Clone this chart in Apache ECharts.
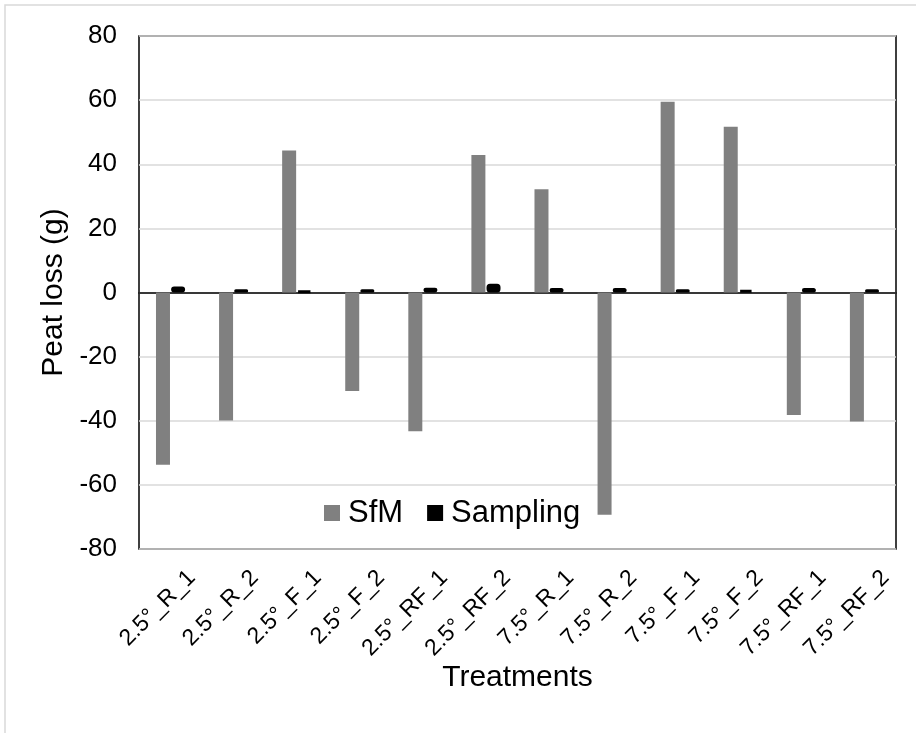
<!DOCTYPE html>
<html>
<head>
<meta charset="utf-8">
<script src="https://cdn.jsdelivr.net/npm/echarts@6/dist/echarts.min.js"></script>
<style>
html,body{margin:0;padding:0;background:#fff;}
#chart{width:916px;height:733px;}
</style>
</head>
<body>
<div id="chart"></div>
<script>
const categories = ['2.5°_R_1','2.5°_R_2','2.5°_F_1','2.5°_F_2','2.5°_RF_1','2.5°_RF_2','7.5°_R_1','7.5°_R_2','7.5°_F_1','7.5°_F_2','7.5°_RF_1','7.5°_RF_2'];
const sfmValues = [-53.7, -39.9, 44.3, -30.7, -43.3, 42.9, 32.2, -69.3, 59.5, 51.7, -38.2, -40.2];
const samplingValues = [1.9, 1.0, 0.5, 1.0, 1.5, 2.7, 1.4, 1.4, 1.0, 0.8, 1.4, 1.0];
const yTicks = {min: -80, max: 80, interval: 20};

const FONT = '"Liberation Sans", Arial, sans-serif';
const chart = echarts.init(document.getElementById('chart'), null, {renderer: 'canvas'});
chart.setOption({
  animation: false,
  backgroundColor: '#fff',
  textStyle: {fontFamily: FONT},
  graphic: [{
    type: 'rect', shape: {x: 5, y: 5, width: 940, height: 760},
    style: {fill: 'none', stroke: '#d9d9d9', lineWidth: 1.5}, silent: true, z: -10
  }],
  grid: {left: 139, top: 36, right: 20, bottom: 184, show: true, borderColor: '#000', borderWidth: 1.5, backgroundColor: 'transparent'},
  legend: {
    left: 319, top: 491, itemWidth: 16, itemHeight: 16, itemGap: 24,
    icon: 'rect',
    textStyle: {fontSize: 31, color: '#000', fontFamily: FONT, lineHeight: 34, padding: [0,0,0,3]},
    data: [{name: 'SfM', itemStyle: {color: '#808080', borderWidth: 0}}, {name: 'Sampling', itemStyle: {color: '#000', borderWidth: 0}}]
  },
  xAxis: {
    type: 'category', data: categories,
    name: 'Treatments', nameLocation: 'middle', nameGap: 114, nameMoveOverlap: false,
    nameTextStyle: {fontSize: 30, color: '#000', fontFamily: FONT, verticalAlign: 'top'},
    axisLine: {show: true, lineStyle: {color: '#000', width: 1.5}},
    axisTick: {show: false},
    axisLabel: {rotate: 45, fontSize: 23, color: '#000', fontFamily: FONT, margin: 4, interval: 0, verticalAlign: 'top', lineHeight: 60}
  },
  yAxis: {
    type: 'value', min: yTicks.min, max: yTicks.max, interval: yTicks.interval,
    name: 'Peat loss (g)', nameLocation: 'middle', nameGap: 70, nameRotate: 90, nameMoveOverlap: false,
    nameTextStyle: {fontSize: 30, color: '#000', fontFamily: FONT},
    axisLine: {show: false}, axisTick: {show: false},
    axisLabel: {fontSize: 26, color: '#000', fontFamily: FONT, margin: 22},
    splitLine: {show: true, lineStyle: {color: '#d9d9d9', width: 1.5}}
  },
  series: [
    {name: 'SfM', type: 'bar', data: sfmValues, barWidth: 14, barGap: '8%', itemStyle: {color: '#808080'}, z: 2},
    {name: 'Sampling', type: 'bar', data: samplingValues, barWidth: 14, itemStyle: {color: '#000', borderColor: '#000', borderWidth: 3, borderRadius: 2}, z: 3}
  ]
});
</script>
</body>
</html>
